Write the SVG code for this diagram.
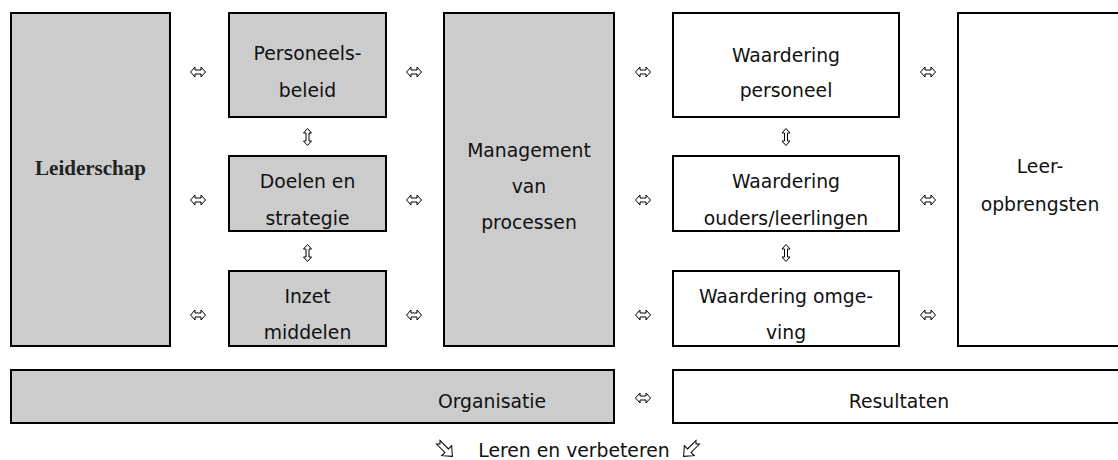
<svg xmlns="http://www.w3.org/2000/svg" width="1118" height="460" viewBox="0 0 1118 460">
<style>
.box{stroke:#000;stroke-width:2}
.g{fill:#cccccc}
.w{fill:#ffffff}
.t{font-family:"DejaVu Sans","Liberation Sans",sans-serif;font-size:18.8px;fill:#111;text-anchor:middle}
.s{font-family:"Liberation Serif",serif;font-size:21px;font-weight:bold;fill:#222;text-anchor:middle}
.arr{fill:#fff;stroke:#000;stroke-width:1;stroke-linejoin:miter}
</style>
<defs>
<path id="h" class="arr" d="M-7.5,0 L-3,-5 L-3,-2 L3,-2 L3,-5 L7.5,0 L3,5 L3,2 L-3,2 L-3,5 Z"/>
<path id="v" class="arr" d="M0,-8.5 L4,-4 L1.5,-4 L1.5,4 L4,4 L0,8.5 L-4,4 L-1.5,4 L-1.5,-4 L-4,-4 Z"/>
<path id="d" class="arr" d="M-11,-2.5 L1,-2.5 L1,-7 L9,0 L1,7 L1,2.5 L-11,2.5 L-8.5,0 Z"/>
</defs>
<g id="leiderschap"><rect class="box g" x="11" y="13" width="159" height="333"/><text class="s" x="90.5" y="175">Leiderschap</text></g>
<g id="personeelsbeleid"><rect class="box g" x="229" y="13" width="157" height="104"/><text class="t" x="307.5" y="60">Personeels-</text><text class="t" x="307.5" y="97">beleid</text></g>
<g id="doelen"><rect class="box g" x="229" y="156" width="157" height="75"/><text class="t" x="307.5" y="188">Doelen en</text><text class="t" x="307.5" y="225">strategie</text></g>
<g id="inzet"><rect class="box g" x="229" y="271" width="157" height="75"/><text class="t" x="307.5" y="303">Inzet</text><text class="t" x="307.5" y="339">middelen</text></g>
<g id="management"><rect class="box g" x="444" y="13" width="170" height="333"/><text class="t" x="529" y="157">Management</text><text class="t" x="529" y="193">van</text><text class="t" x="529" y="229">processen</text></g>
<g id="waardering-personeel"><rect class="box w" x="673" y="13" width="226" height="104"/><text class="t" x="786" y="62">Waardering</text><text class="t" x="786" y="97">personeel</text></g>
<g id="waardering-ouders"><rect class="box w" x="673" y="156" width="226" height="75"/><text class="t" x="786" y="188">Waardering</text><text class="t" x="786" y="225">ouders/leerlingen</text></g>
<g id="waardering-omgeving"><rect class="box w" x="673" y="271" width="226" height="75"/><text class="t" x="786" y="303">Waardering omge-</text><text class="t" x="786" y="339">ving</text></g>
<g id="leeropbrengsten"><rect class="box w" x="958" y="13" width="165" height="333"/><text class="t" x="1040" y="173">Leer-</text><text class="t" x="1040" y="211">opbrengsten</text></g>
<g id="organisatie"><rect class="box g" x="11" y="370" width="603" height="53"/><text class="t" x="492" y="408">Organisatie</text></g>
<g id="resultaten"><rect class="box w" x="673" y="370" width="450" height="53"/><text class="t" x="899" y="408">Resultaten</text></g>
<g id="connectors">
<use href="#h" x="198" y="72"/><use href="#h" x="198" y="200"/><use href="#h" x="198" y="315"/>
<use href="#h" x="414" y="72"/><use href="#h" x="414" y="200"/><use href="#h" x="414" y="315"/>
<use href="#h" x="643" y="72"/><use href="#h" x="643" y="200"/><use href="#h" x="643" y="315"/>
<use href="#h" x="928" y="72"/><use href="#h" x="928" y="200"/><use href="#h" x="928" y="315"/>
<use href="#h" x="643" y="398"/>
<use href="#v" x="307.5" y="137"/><use href="#v" x="307.5" y="253"/>
<use href="#v" x="786" y="137"/><use href="#v" x="786" y="253"/>
<use href="#d" transform="translate(446,450) rotate(45)"/>
<use href="#d" transform="translate(690,450) rotate(135)"/>
</g>
<text id="leren" class="t" x="574" y="457">Leren en verbeteren</text>
</svg>
